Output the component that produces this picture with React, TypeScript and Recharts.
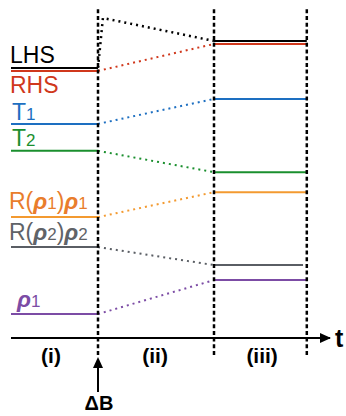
import React from 'react';
import { LineChart, Line, XAxis, YAxis, ReferenceLine, Customized } from 'recharts';

// levels in arbitrary units (0 = time axis, 100 = top)
const seriesNames = ['LHS', 'RHS', 'T1', 'T2', 'R1', 'R2', 'rho1'];
const levelBefore = [81.1, 80.2, 64.3, 56.2, 36.3, 27.3, 7.2];
const levelAfter = [89.2, 88.3, 71.8, 49.8, 43.8, 21.9, 17.4];
const lhsOvershoot = { t: 3.17, v: 96.1 };
// start, field step (ΔB), start of (iii), end of (iii)
const phaseTimes = [0, 3, 7, 10.2];
const regionLabels = ['(i)', '(ii)', '(iii)'];
const regionTicks = [1.38, 4.97, 8.66];

const colors: Record<string, { line: string; text: string }> = {
  LHS: { line: '#000000', text: '#000000' },
  RHS: { line: '#d0381c', text: '#d0381c' },
  T1: { line: '#1d6fc1', text: '#1d6fc1' },
  T2: { line: '#1a8f2e', text: '#1a8f2e' },
  R1: { line: '#f39a30', text: '#e97d2c' },
  R2: { line: '#5a5e64', text: '#5f6368' },
  rho1: { line: '#7c4ca5', text: '#7c4ca5' },
};

// label pieces: n = normal, s = small digit, g = bold italic rho
const labelParts: Record<string, [string, string][]> = {
  LHS: [['LHS', 'n']],
  RHS: [['RHS', 'n']],
  T1: [['T', 'n'], ['1', 's']],
  T2: [['T', 'n'], ['2', 's']],
  R1: [['R(', 'n'], ['ρ', 'g'], ['1', 's'], [')', 'n'], ['ρ', 'g'], ['1', 's']],
  R2: [['R(', 'n'], ['ρ', 'g'], ['2', 's'], [')', 'n'], ['ρ', 'g'], ['2', 's']],
  rho1: [['ρ', 'g'], ['1', 's']],
};
const labelDy: Record<string, number> = { LHS: -5, RHS: 22, T1: -4, T2: -5, R1: -8, R2: -7, rho1: -7 };
const labelDx: Record<string, number> = { LHS: -1, RHS: -1, T1: 1, T2: 1, R1: -2, R2: -2, rho1: 6 };

const W = 346;
const H = 416;
const M = { top: 5, left: 11, right: 16, bottom: 48 };
const AXIS_H = 30;
const plotW = W - M.left - M.right;
const plotH = H - M.top - M.bottom - AXIS_H;
const T_MAX = 11;
const px = (t: number) => M.left + (t / T_MAX) * plotW;
const py = (v: number) => M.top + plotH - (v / 100) * plotH;
const vAt = (y: number) => ((M.top + plotH - y) / plotH) * 100;

const FONT = '"Liberation Sans", Arial, Helvetica, sans-serif';

function RegionTick(props: any) {
  const { x, y, payload } = props;
  const i = regionTicks.indexOf(payload.value);
  return (
    <text x={x} y={y + 25} textAnchor="middle" fontFamily={FONT} fontWeight="bold" fontSize={21} fill="#000">
      {regionLabels[i]}
    </text>
  );
}

function Annotations() {
  const xb = px(phaseTimes[1]);
  const axisY = py(0);
  return (
    <g>
      {seriesNames.map((s, i) => (
        <text
          key={s}
          x={px(phaseTimes[0]) + labelDx[s]}
          y={py(levelBefore[i]) + labelDy[s]}
          fill={colors[s].text}
          fontFamily={FONT}
          fontSize={23}
        >
          {labelParts[s].map(([txt, kind], k) => (
            <tspan
              key={k}
              fontSize={kind === 's' ? 17 : 23}
              fontWeight={kind === 'g' ? 'bold' : 'normal'}
              fontStyle={kind === 'g' ? 'italic' : 'normal'}
            >
              {txt}
            </tspan>
          ))}
        </text>
      ))}
      {/* time axis arrow head */}
      <polygon
        points={`${px(T_MAX) + 1},${axisY} ${px(T_MAX) - 10},${axisY - 5} ${px(T_MAX) - 10},${axisY + 5}`}
        fill="#000"
      />
      <text x={px(T_MAX) + 5} y={axisY + 9} fontFamily={FONT} fontWeight="bold" fontSize={25} fill="#000">
        t
      </text>
      {/* field step arrow */}
      <line x1={xb} y1={392} x2={xb} y2={366} stroke="#000" strokeWidth={2} />
      <polygon points={`${xb},${357} ${xb - 5},${368} ${xb + 5},${368}`} fill="#000" />
      <text x={xb + 1} y={410} textAnchor="middle" fontFamily={FONT} fontWeight="bold" fontSize={20} fill="#000">
        ΔB
      </text>
    </g>
  );
}

export default function App() {
  const [t0, tB, t2, t3] = phaseTimes;
  return (
    <div style={{ position: 'absolute', left: 0, top: 0, width: W, height: H, background: '#fff' }}>
      <LineChart width={W} height={H} margin={M}>
        <XAxis
          type="number"
          dataKey="t"
          domain={[0, T_MAX]}
          ticks={regionTicks}
          interval={0}
          tick={<RegionTick />}
          tickLine={false}
          tickSize={0}
          tickMargin={0}
          height={AXIS_H}
          axisLine={{ stroke: '#000', strokeWidth: 2 }}
          allowDuplicatedCategory={false}
        />
        <YAxis type="number" domain={[0, 100]} hide />

        {seriesNames.map((s, i) => {
          const pts =
            s === 'LHS'
              ? [{ t: tB, v: levelBefore[i] }, lhsOvershoot, { t: t2, v: levelAfter[i] }]
              : [{ t: tB, v: levelBefore[i] }, { t: t2, v: levelAfter[i] }];
          return (
            <Line
              key={s + '-trans'}
              data={pts}
              dataKey="v"
              stroke={colors[s].line}
              strokeWidth={s === 'LHS' ? 2.5 : 2}
              strokeDasharray="2 4"
              dot={false}
              activeDot={false}
              isAnimationActive={false}
            />
          );
        })}
        {seriesNames.map((s, i) => (
          <Line
            key={s + '-pre'}
            data={[{ t: t0, v: levelBefore[i] }, { t: tB, v: levelBefore[i] }]}
            dataKey="v"
            stroke={colors[s].line}
            strokeWidth={2}
            dot={false}
            activeDot={false}
            isAnimationActive={false}
          />
        ))}
        {seriesNames.map((s, i) => (
          <Line
            key={s + '-post'}
            data={[{ t: t2, v: levelAfter[i] }, { t: s === 'R2' ? t3 - 0.13 : t3, v: levelAfter[i] }]}
            dataKey="v"
            stroke={colors[s].line}
            strokeWidth={2}
            dot={false}
            activeDot={false}
            isAnimationActive={false}
          />
        ))}

        {phaseTimes.slice(1).map((t) => (
          <ReferenceLine
            key={t}
            segment={[
              { x: t, y: vAt(355) },
              { x: t, y: vAt(7) },
            ]}
            stroke="#000"
            strokeWidth={2.5}
            strokeDasharray="4 2.7"
            ifOverflow="visible"
          />
        ))}
        <Customized component={Annotations} />
      </LineChart>
    </div>
  );
}
